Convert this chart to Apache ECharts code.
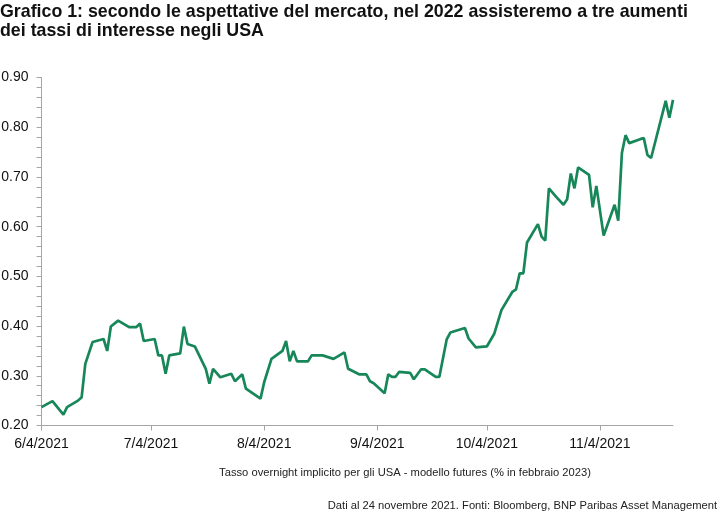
<!DOCTYPE html>
<html>
<head>
<meta charset="utf-8">
<script src="https://cdn.jsdelivr.net/npm/echarts@6/dist/echarts.min.js"></script>
<style>
  html, body { margin: 0; padding: 0; background: #fff; }
  #main { width: 725px; height: 522px; }
</style>
</head>
<body>
<div id="main"></div>
<script>
var FONT = '"Liberation Sans Narrow", "Arial Narrow", "Liberation Sans", Arial, sans-serif';

// date range of the x axis (calendar days)
var startDate = "2021-06-04",
  endDate = "2021-11-24";

// tasso overnight implicito (% in febbraio 2023)
var dates = [
  "2021-06-04", "2021-06-07", "2021-06-10", "2021-06-11", "2021-06-14", "2021-06-15",
  "2021-06-16", "2021-06-18", "2021-06-21", "2021-06-22", "2021-06-23", "2021-06-25",
  "2021-06-28", "2021-06-30", "2021-07-01", "2021-07-02", "2021-07-05", "2021-07-06",
  "2021-07-07", "2021-07-08", "2021-07-09", "2021-07-12", "2021-07-13", "2021-07-14",
  "2021-07-16", "2021-07-19", "2021-07-20", "2021-07-21", "2021-07-23", "2021-07-26",
  "2021-07-27", "2021-07-29", "2021-07-30", "2021-08-03", "2021-08-04", "2021-08-06",
  "2021-08-09", "2021-08-10", "2021-08-11", "2021-08-12", "2021-08-13", "2021-08-16",
  "2021-08-17", "2021-08-20", "2021-08-23", "2021-08-26", "2021-08-27", "2021-08-30",
  "2021-09-01", "2021-09-02", "2021-09-03", "2021-09-06", "2021-09-07", "2021-09-08",
  "2021-09-09", "2021-09-10", "2021-09-13", "2021-09-14", "2021-09-16", "2021-09-17",
  "2021-09-20", "2021-09-21", "2021-09-23", "2021-09-24", "2021-09-28", "2021-09-29",
  "2021-10-01", "2021-10-04", "2021-10-06", "2021-10-08", "2021-10-11", "2021-10-12",
  "2021-10-13", "2021-10-14", "2021-10-15", "2021-10-18", "2021-10-19", "2021-10-20",
  "2021-10-21", "2021-10-23", "2021-10-25", "2021-10-26", "2021-10-27", "2021-10-28",
  "2021-10-29", "2021-11-01", "2021-11-02", "2021-11-03", "2021-11-05", "2021-11-08",
  "2021-11-09", "2021-11-10", "2021-11-11", "2021-11-12", "2021-11-15", "2021-11-16",
  "2021-11-17", "2021-11-18", "2021-11-22", "2021-11-23", "2021-11-24"
];
var values = [
  0.237, 0.249, 0.222, 0.237, 0.250, 0.257,
  0.324, 0.368, 0.374, 0.350, 0.399, 0.411,
  0.398, 0.398, 0.405, 0.370, 0.374, 0.341,
  0.341, 0.304, 0.341, 0.345, 0.399, 0.364,
  0.359, 0.314, 0.284, 0.314, 0.297, 0.304,
  0.289, 0.303, 0.274, 0.254, 0.287, 0.334,
  0.350, 0.370, 0.329, 0.350, 0.329, 0.329,
  0.341, 0.341, 0.334, 0.347, 0.314, 0.303,
  0.303, 0.289, 0.285, 0.265, 0.303, 0.298,
  0.298, 0.308, 0.306, 0.293, 0.313, 0.313,
  0.298, 0.298, 0.373, 0.387, 0.396, 0.375,
  0.357, 0.359, 0.384, 0.432, 0.469, 0.474,
  0.506, 0.506, 0.568, 0.605, 0.580, 0.572,
  0.677, 0.660, 0.644, 0.655, 0.707, 0.677,
  0.719, 0.704, 0.639, 0.682, 0.582, 0.644,
  0.612, 0.748, 0.784, 0.768, 0.776, 0.778,
  0.744, 0.738, 0.853, 0.819, 0.855
];

// y axis
var yMin = 0.2,
  yMax = 0.9,
  yStep = 0.1;

// every calendar day between start and end, as category names
var days = [];
var d = new Date(startDate + "T00:00:00Z");
var last = new Date(endDate + "T00:00:00Z");
while (d <= last) {
  days.push(d.toISOString().slice(0, 10));
  d.setUTCDate(d.getUTCDate() + 1);
}

var seriesData = [];
for (var i = 0; i < dates.length; i++) {
  seriesData.push([dates[i], values[i]]);
}

// label / tick on the 4th of each month
function isFourth(index, value) {
  return value.slice(8, 10) === "04";
}

var myChart = echarts.init(document.getElementById("main"));

var option = {
  animation: false,
  title: [
    {
      text: "Grafico 1: secondo le aspettative del mercato, nel 2022 assisteremo a tre aumenti\ndei tassi di interesse negli USA",
      left: 0,
      top: 3,
      padding: 0,
      textStyle: {
        fontFamily: FONT,
        fontSize: 17.8,
        fontWeight: "bold",
        lineHeight: 19,
        color: "#111"
      }
    },
    {
      text: "Tasso overnight implicito per gli USA - modello futures (% in febbraio 2023)",
      left: 405,
      top: 467,
      textAlign: "center",
      padding: 0,
      textStyle: {
        fontFamily: FONT,
        fontSize: 11.2,
        fontWeight: "normal",
        color: "#222"
      }
    },
    {
      text: "Dati al 24 novembre 2021. Fonti: Bloomberg, BNP Paribas Asset Management",
      right: 8,
      top: 500,
      padding: 0,
      textStyle: {
        fontFamily: FONT,
        fontSize: 11.2,
        fontWeight: "normal",
        color: "#222"
      }
    }
  ],
  grid: {
    left: 41.5,
    right: 52,
    top: 77.5,
    bottom: 96.5,
    containLabel: false,
    outerBoundsMode: "none"
  },
  xAxis: {
    type: "category",
    data: days,
    boundaryGap: false,
    axisLine: { lineStyle: { color: "#a6a6a6", width: 1 } },
    axisTick: {
      show: true,
      interval: isFourth,
      length: 5,
      lineStyle: { color: "#a6a6a6" }
    },
    axisLabel: {
      interval: isFourth,
      margin: 12,
      fontFamily: FONT,
      fontSize: 14,
      color: "#111",
      formatter: function(value) {
        var p = value.split("-");
        return parseInt(p[1], 10) + "/" + parseInt(p[2], 10) + "/" + p[0];
      }
    },
    splitLine: { show: false }
  },
  yAxis: {
    type: "value",
    min: yMin,
    max: yMax,
    interval: yStep,
    axisLine: { show: true, lineStyle: { color: "#a6a6a6", width: 1 } },
    axisTick: { show: true, length: 5, lineStyle: { color: "#a6a6a6" } },
    minorTick: { show: true, splitNumber: 5, length: 5, lineStyle: { color: "#a6a6a6" } },
    axisLabel: {
      margin: 13,
      fontFamily: FONT,
      fontSize: 14,
      color: "#111",
      formatter: function(v) {
        return v.toFixed(2);
      }
    },
    splitLine: { show: false }
  },
  series: [
    {
      name: "Tasso overnight implicito",
      type: "line",
      data: seriesData,
      showSymbol: false,
      symbol: "none",
      connectNulls: true,
      lineStyle: { color: "#17875a", width: 2.7 }
    }
  ]
};
myChart.setOption(option);
</script>
</body>
</html>
